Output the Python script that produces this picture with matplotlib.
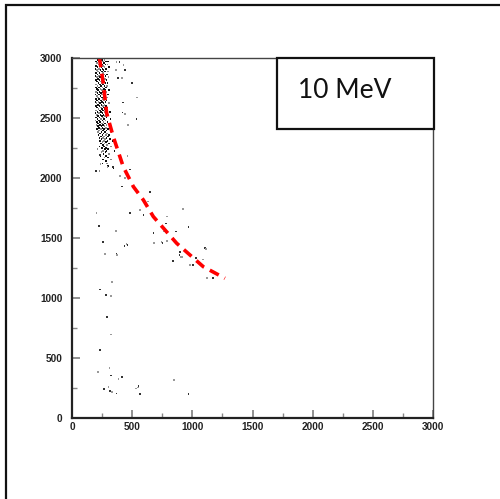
import matplotlib
matplotlib.use("Agg")
import matplotlib.pyplot as plt
from matplotlib.patches import Rectangle

# ---------------- data ----------------
# dense band: rows of y values, each with list of x values
band_y = [2995, 2983, 2971, 2959, 2947, 2935, 2923, 2911, 2899, 2887, 2875, 2863,
          2851, 2839, 2827, 2815, 2803, 2791, 2779, 2767, 2755, 2743, 2731, 2719,
          2707, 2695, 2683, 2671, 2659, 2647, 2635, 2623, 2611, 2599, 2587, 2575,
          2563, 2551, 2539, 2527, 2515, 2503, 2491, 2479, 2467, 2455, 2443, 2431,
          2419, 2407, 2395, 2383, 2371, 2359, 2347, 2335, 2323, 2311, 2299, 2287,
          2275, 2263, 2251, 2239, 2227, 2215, 2200, 2185, 2170, 2155, 2140, 2120,
          2100, 2080, 2060]
band_x = [
    [203, 236, 262, 288], [214, 247, 271], [198, 226, 255, 281, 301],
    [209, 240, 266], [219, 251, 277, 294], [201, 231, 259],
    [212, 244, 270, 307], [196, 224, 253, 284], [207, 238, 263],
    [217, 249, 275, 298], [200, 229, 257], [211, 242, 268, 290],
    [195, 222, 252, 279], [206, 235, 261, 303], [216, 246, 273],
    [199, 228, 256, 286], [210, 241, 267], [220, 250, 278, 296],
    [202, 232, 260], [213, 243, 269, 292], [197, 225, 254, 282],
    [208, 237, 264], [218, 248, 274, 310], [200, 230, 258, 285],
    [211, 241, 266], [196, 223, 251, 279, 299], [206, 236, 262],
    [216, 247, 272, 293], [199, 227, 255], [210, 239, 268, 288],
    [194, 221, 250, 277], [205, 234, 261, 305], [215, 245, 271],
    [198, 229, 257, 284], [209, 240, 266, 296], [219, 249, 276],
    [201, 231, 259, 289], [212, 243, 270, 314], [196, 224, 253, 281],
    [207, 237, 263, 300], [217, 248, 275], [200, 229, 257, 287],
    [211, 241, 268, 320], [195, 223, 252, 279], [206, 235, 262, 294],
    [216, 247, 274, 306], [203, 232, 260, 288], [214, 244, 271],
    [222, 253, 282, 312], [208, 239, 266, 298], [226, 257, 287],
    [215, 246, 275, 329], [233, 262, 293], [221, 252, 281, 310],
    [239, 268, 301], [228, 258, 288], [245, 275, 316],
    [234, 264, 296, 342], [252, 283], [241, 271, 305],
    [259, 290], [230, 266, 322], [248, 280],
    [213, 273, 298], [256, 287, 352], [245, 279],
    [262, 310], [238, 284], [270, 300],
    [255, 326], [280], [252, 292],
    [300], [345], [230],
]

# isolated points
scatter_x = [371, 394, 427, 443, 366, 380, 416, 496, 540, 422, 443, 537, 468, 421,
             205, 233, 294, 343, 460, 482, 399, 413, 441, 482, 565, 593, 607, 648,
             634, 676, 787, 781, 765, 864, 925, 967, 745, 753, 681, 898, 912, 837,
             981, 1105, 1091, 1030, 1124, 1174, 205, 227, 366, 260, 274, 371, 454,
             435, 330, 233, 238, 200, 792, 462, 376, 892, 906, 1008, 1111, 283, 324,
             291, 324, 233, 313, 322, 385, 418, 214, 266, 302, 316, 330, 371, 532,
             554, 551, 565, 850, 967]
scatter_y = [2969, 2969, 2942, 2900, 2900, 2831, 2831, 2789, 2672, 2628, 2531, 2489,
             2442, 2547, 2053, 2192, 2094, 2089, 2183, 2072, 2017, 1928, 1998, 1706,
             1733, 1692, 1789, 1886, 1803, 1544, 1678, 1622, 1553, 1553, 1739, 1594,
             1469, 1456, 1461, 1386, 1344, 1308, 1275, 1414, 1322, 1331, 1164, 1164,
             1711, 1600, 1561, 1469, 1367, 1367, 1450, 1433, 1131, 1072, 2117, 2061,
             1475, 1444, 1361, 1358, 1339, 1275, 1406, 1025, 1017, 839, 697, 567,
             417, 353, 325, 342, 381, 239, 256, 225, 219, 203, 247, 269, 253, 200,
             319, 200]

# fitted kinematic curve (red dashed)
curve_x = [227, 260, 288, 343, 426, 510, 593, 676, 773, 870, 981, 1091, 1271]
curve_y = [3006, 2789, 2539, 2344, 2094, 1928, 1817, 1678, 1567, 1456, 1358, 1261, 1164]

x_ticks = [0, 500, 1000, 1500, 2000, 2500, 3000]
y_ticks = [0, 500, 1000, 1500, 2000, 2500, 3000]
label_text = "10 MeV"

# ---------------- figure ----------------
fig = plt.figure(figsize=(5.0, 4.99), dpi=100)
W, H = 500, 499

# outer frame (partially cut by image edge)
fig.patches.append(Rectangle((5.5 / W, -0.1), 1.2, (H - 4.5) / H + 0.1,
                             transform=fig.transFigure, fill=False,
                             edgecolor="#111111", linewidth=1.6))

ax = fig.add_axes([72 / W, (H - 418) / H, 361 / W, 360 / H])
ax.set_xlim(0, 3000)
ax.set_ylim(0, 3000)

# points
px, py = [], []
for yv, xs in zip(band_y, band_x):
    for xv in xs:
        px.append(xv)
        py.append(yv)
cols = ["#111111" if i % 3 else "#8a8a8a" for i in range(len(px))]
ax.scatter(px, py, s=1.4, marker="s", c=cols, linewidths=0)
cols2 = ["#333333" if i % 2 else "#999999" for i in range(len(scatter_x))]
ax.scatter(scatter_x, scatter_y, s=1.4, marker="s", c=cols2, linewidths=0)

ax.plot(curve_x, curve_y, color="#ff0000", linewidth=2.6,
        linestyle=(0, (2.8, 1.8)), solid_capstyle="butt", dash_capstyle="butt")

# spines
for side in ("left", "bottom"):
    ax.spines[side].set_linewidth(1.6)
    ax.spines[side].set_color("#222222")
for side in ("top", "right"):
    ax.spines[side].set_linewidth(1.0)
    ax.spines[side].set_color("#444444")

ax.set_xticks(x_ticks)
ax.set_yticks(y_ticks)
ax.set_xticks([250, 750, 1250, 1750, 2250, 2750], minor=True)
ax.set_yticks([250, 750, 1250, 1750, 2250, 2750], minor=True)
ax.set_xticklabels([str(t) for t in x_ticks])
ax.set_yticklabels([str(t) for t in y_ticks])
ax.tick_params(which="major", direction="in", length=6, width=1.3, color="#888888")
ax.tick_params(which="minor", direction="in", length=3.5, width=1.0, color="#888888")
ax.tick_params(axis="x", which="major", pad=3)
ax.tick_params(axis="y", which="major", pad=7)
for lab in ax.get_xticklabels() + ax.get_yticklabels():
    lab.set_fontfamily("Liberation Sans")
    lab.set_fontweight("bold")
    lab.set_fontsize(7.2)
    lab.set_color("#222222")

# label box
fig.patches.append(Rectangle((277 / W, (H - 129) / H), 157 / W, 71 / H,
                             transform=fig.transFigure, fill=True,
                             facecolor="white", edgecolor="#111111",
                             linewidth=1.6, zorder=5))
fig.text(298 / W, (H - 98) / H, label_text, fontsize=19, family="Lato",
         va="baseline", ha="left", color="#111111", zorder=6)

fig.savefig("out.png", dpi=100)
